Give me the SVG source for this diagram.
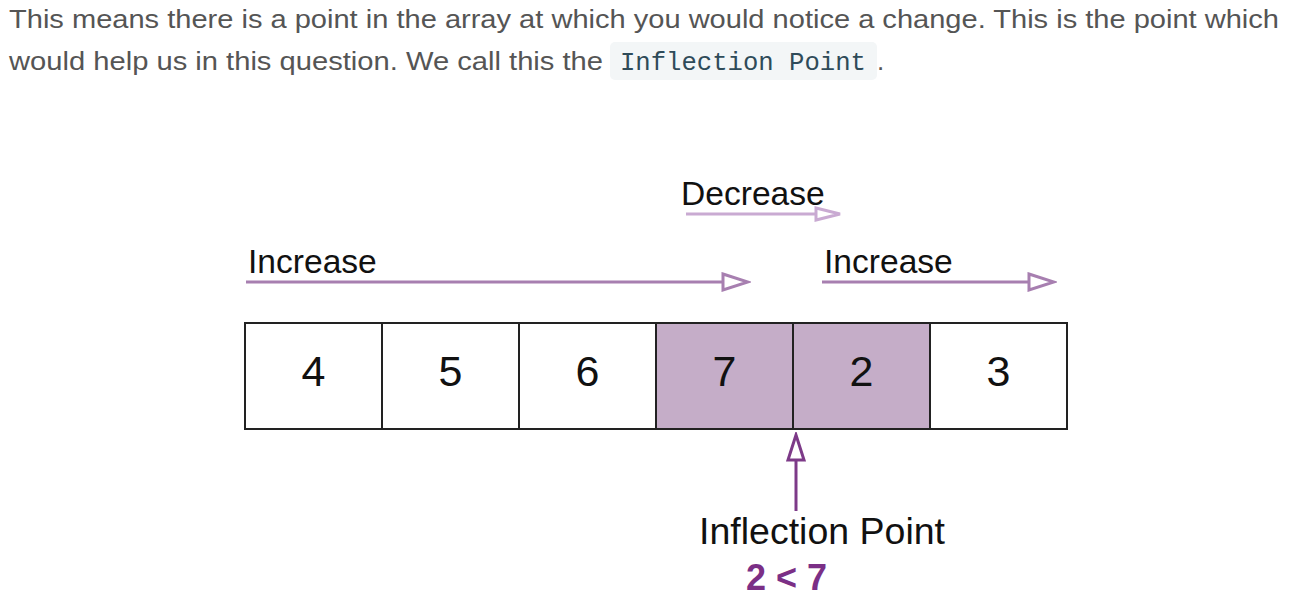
<svg xmlns="http://www.w3.org/2000/svg" width="1308" height="606" viewBox="0 0 1308 606">
<style>
.para{font-family:"Liberation Sans",Arial,sans-serif;font-size:26px;fill:#555}
.code{font-family:"Liberation Mono","DejaVu Sans Mono",monospace;font-size:25px;fill:#2f4b59}
.lbl{font-family:"Liberation Sans",Arial,sans-serif;font-size:33.6px;fill:#111}
.num{font-family:"Liberation Sans",Arial,sans-serif;font-size:43px;fill:#111;text-anchor:middle}
.cell{stroke:#222;stroke-width:2;fill:#fff}
.hl{fill:#c5adc8}
</style>
<defs>
<marker id="hInc" markerUnits="userSpaceOnUse" viewBox="0 0 30 20" refX="2" refY="10" markerWidth="30" markerHeight="20" orient="auto">
<path d="M2,2 L27,10 L2,18 Z" fill="#fff" stroke="#a77fb0" stroke-width="3"/>
</marker>
<marker id="hDec" markerUnits="userSpaceOnUse" viewBox="0 0 30 20" refX="2" refY="10" markerWidth="30" markerHeight="20" orient="auto">
<path d="M2,4 L26,10 L2,16 Z" fill="#fff" stroke="#c9aad2" stroke-width="3"/>
</marker>
<marker id="hUp" markerUnits="userSpaceOnUse" viewBox="0 0 30 20" refX="2" refY="10" markerWidth="30" markerHeight="20" orient="auto">
<path d="M2,2 L27,10 L2,18 Z" fill="#fff" stroke="#7d3a88" stroke-width="3"/>
</marker>
</defs>
<text class="para" x="9" y="28" textLength="1270" lengthAdjust="spacingAndGlyphs">This means there is a point in the array at which you would notice a change. This is the point which</text>
<text class="para" x="9" y="70" textLength="594" lengthAdjust="spacingAndGlyphs">would help us in this question. We call this the</text>
<rect x="610" y="42" width="267" height="38" rx="5" fill="#f3f6f7"/>
<text class="code" x="620" y="70" textLength="246" lengthAdjust="spacingAndGlyphs">Inflection Point</text>
<text class="para" x="877" y="70">.</text>

<g id="array">
<g id="cell0"><rect class="cell" x="245" y="323" width="137" height="106"/><text class="num" x="313.5" y="386">4</text></g>
<g id="cell1"><rect class="cell" x="382" y="323" width="137" height="106"/><text class="num" x="450.5" y="386">5</text></g>
<g id="cell2"><rect class="cell" x="519" y="323" width="137" height="106"/><text class="num" x="587.5" y="386">6</text></g>
<g id="cell3"><rect class="cell hl" x="656" y="323" width="137" height="106"/><text class="num" x="724.5" y="386">7</text></g>
<g id="cell4"><rect class="cell hl" x="793" y="323" width="137" height="106"/><text class="num" x="861.5" y="386">2</text></g>
<g id="cell5"><rect class="cell" x="930" y="323" width="137" height="106"/><text class="num" x="998.5" y="386">3</text></g>
</g>

<g id="labels">
<text class="lbl" x="248" y="273">Increase</text>
<text class="lbl" x="681" y="205">Decrease</text>
<text class="lbl" x="824" y="273">Increase</text>
<text class="lbl" x="699" y="544" style="font-size:37.5px">Inflection Point</text>
<text x="746" y="590" style="font-family:'Liberation Sans',Arial,sans-serif;font-size:36px;font-weight:bold;fill:#7b2f86">2 &lt; 7</text>
</g>

<g id="connectors" fill="none">
<line x1="246" y1="282" x2="723" y2="282" stroke="#a77fb0" stroke-width="3" marker-end="url(#hInc)"/>
<line x1="686" y1="214" x2="816" y2="214" stroke="#c9aad2" stroke-width="3" marker-end="url(#hDec)"/>
<line x1="822" y1="282" x2="1029" y2="282" stroke="#a77fb0" stroke-width="3" marker-end="url(#hInc)"/>
<line x1="796" y1="511" x2="796" y2="460" stroke="#7d3a88" stroke-width="3" marker-end="url(#hUp)"/>
</g>
</svg>
